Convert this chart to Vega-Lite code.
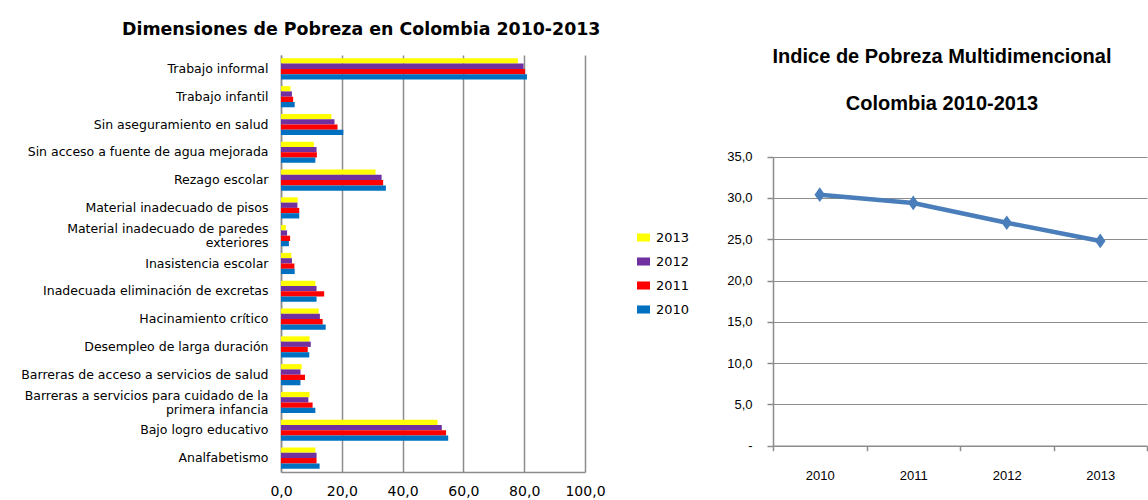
{
  "$schema": "https://vega.github.io/schema/vega-lite/v6.json",
  "padding": {"left": 0, "top": 20, "right": 0, "bottom": 0},
  "background": "white",
  "title": {"text": "Dimensiones de Pobreza en Colombia 2010-2013", "anchor": "start", "dx": 122, "font": "DejaVu Sans", "fontSize": 17.4, "fontWeight": "bold", "color": "#000000", "offset": 9},
  "spacing": 117,
  "config": {"view": {"stroke": null}},
  "hconcat": [
    {
      "width": 304,
      "height": 417,
      "data": {"values": [
        {"dim": "Trabajo informal", "year": "2013", "value": 77.9},
        {"dim": "Trabajo informal", "year": "2012", "value": 79.8},
        {"dim": "Trabajo informal", "year": "2011", "value": 80.3},
        {"dim": "Trabajo informal", "year": "2010", "value": 80.9},
        {"dim": "Trabajo infantil", "year": "2013", "value": 3.1},
        {"dim": "Trabajo infantil", "year": "2012", "value": 3.6},
        {"dim": "Trabajo infantil", "year": "2011", "value": 4.0},
        {"dim": "Trabajo infantil", "year": "2010", "value": 4.5},
        {"dim": "Sin aseguramiento en salud", "year": "2013", "value": 16.6},
        {"dim": "Sin aseguramiento en salud", "year": "2012", "value": 17.6},
        {"dim": "Sin aseguramiento en salud", "year": "2011", "value": 18.6},
        {"dim": "Sin aseguramiento en salud", "year": "2010", "value": 20.5},
        {"dim": "Sin acceso a fuente de agua mejorada", "year": "2013", "value": 10.8},
        {"dim": "Sin acceso a fuente de agua mejorada", "year": "2012", "value": 11.7},
        {"dim": "Sin acceso a fuente de agua mejorada", "year": "2011", "value": 11.8},
        {"dim": "Sin acceso a fuente de agua mejorada", "year": "2010", "value": 11.3},
        {"dim": "Rezago escolar", "year": "2013", "value": 31.1},
        {"dim": "Rezago escolar", "year": "2012", "value": 33.1},
        {"dim": "Rezago escolar", "year": "2011", "value": 33.6},
        {"dim": "Rezago escolar", "year": "2010", "value": 34.5},
        {"dim": "Material inadecuado de pisos", "year": "2013", "value": 5.5},
        {"dim": "Material inadecuado de pisos", "year": "2012", "value": 5.4},
        {"dim": "Material inadecuado de pisos", "year": "2011", "value": 6.0},
        {"dim": "Material inadecuado de pisos", "year": "2010", "value": 6.0},
        {"dim": "Material inadecuado de paredes exteriores", "year": "2013", "value": 1.6},
        {"dim": "Material inadecuado de paredes exteriores", "year": "2012", "value": 2.0},
        {"dim": "Material inadecuado de paredes exteriores", "year": "2011", "value": 3.0},
        {"dim": "Material inadecuado de paredes exteriores", "year": "2010", "value": 2.6},
        {"dim": "Inasistencia escolar", "year": "2013", "value": 3.4},
        {"dim": "Inasistencia escolar", "year": "2012", "value": 3.6},
        {"dim": "Inasistencia escolar", "year": "2011", "value": 4.4},
        {"dim": "Inasistencia escolar", "year": "2010", "value": 4.5},
        {"dim": "Inadecuada eliminación de excretas", "year": "2013", "value": 11.3},
        {"dim": "Inadecuada eliminación de excretas", "year": "2012", "value": 11.7},
        {"dim": "Inadecuada eliminación de excretas", "year": "2011", "value": 14.2},
        {"dim": "Inadecuada eliminación de excretas", "year": "2010", "value": 11.7},
        {"dim": "Hacinamiento crítico", "year": "2013", "value": 12.4},
        {"dim": "Hacinamiento crítico", "year": "2012", "value": 12.8},
        {"dim": "Hacinamiento crítico", "year": "2011", "value": 13.7},
        {"dim": "Hacinamiento crítico", "year": "2010", "value": 14.7},
        {"dim": "Desempleo de larga duración", "year": "2013", "value": 9.4},
        {"dim": "Desempleo de larga duración", "year": "2012", "value": 9.8},
        {"dim": "Desempleo de larga duración", "year": "2011", "value": 8.8},
        {"dim": "Desempleo de larga duración", "year": "2010", "value": 9.3},
        {"dim": "Barreras de acceso a servicios de salud", "year": "2013", "value": 6.8},
        {"dim": "Barreras de acceso a servicios de salud", "year": "2012", "value": 6.4},
        {"dim": "Barreras de acceso a servicios de salud", "year": "2011", "value": 7.9},
        {"dim": "Barreras de acceso a servicios de salud", "year": "2010", "value": 6.4},
        {"dim": "Barreras a servicios para cuidado de la primera infancia", "year": "2013", "value": 9.4},
        {"dim": "Barreras a servicios para cuidado de la primera infancia", "year": "2012", "value": 9.0},
        {"dim": "Barreras a servicios para cuidado de la primera infancia", "year": "2011", "value": 10.4},
        {"dim": "Barreras a servicios para cuidado de la primera infancia", "year": "2010", "value": 11.3},
        {"dim": "Bajo logro educativo", "year": "2013", "value": 51.5},
        {"dim": "Bajo logro educativo", "year": "2012", "value": 52.9},
        {"dim": "Bajo logro educativo", "year": "2011", "value": 54.3},
        {"dim": "Bajo logro educativo", "year": "2010", "value": 55.0},
        {"dim": "Analfabetismo", "year": "2013", "value": 11.3},
        {"dim": "Analfabetismo", "year": "2012", "value": 11.7},
        {"dim": "Analfabetismo", "year": "2011", "value": 11.7},
        {"dim": "Analfabetismo", "year": "2010", "value": 12.7}
      ]},
      "mark": {"type": "bar"},
      "encoding": {
        "y": {
          "field": "dim", "type": "nominal", "sort": null,
          "scale": {"paddingInner": 0.24, "paddingOuter": 0.12},
          "axis": {
            "title": null, "ticks": false, "domainColor": "#8c8c8c", "domainWidth": 1.5,
            "labelFont": "DejaVu Sans", "labelFontSize": 12.5, "labelColor": "#000000",
            "labelPadding": 13, "labelLimit": 320, "labelLineHeight": 14,
            "labelOffset": {"condition": {"test": "datum.value == 'Material inadecuado de paredes exteriores' || datum.value == 'Barreras a servicios para cuidado de la primera infancia'", "value": -7}, "value": 0},
            "minExtent": 281, "maxExtent": 281,
            "labelExpr": "datum.label == 'Material inadecuado de paredes exteriores' ? ['Material inadecuado de paredes', 'exteriores'] : datum.label == 'Barreras a servicios para cuidado de la primera infancia' ? ['Barreras a servicios para cuidado de la', 'primera infancia'] : datum.label"
          }
        },
        "x": {
          "field": "value", "type": "quantitative",
          "scale": {"domain": [0, 100], "nice": false},
          "axis": {
            "title": null, "values": [0, 20, 40, 60, 80, 100], "ticks": false,
            "grid": true, "gridColor": "#8c8c8c", "gridWidth": 1.5,
            "domainColor": "#8c8c8c", "domainWidth": 1.5, "labelFlush": false,
            "labelFont": "DejaVu Sans", "labelFontSize": 14, "labelColor": "#000000", "labelPadding": 12,
            "labelExpr": "replace(format(datum.value, '.1f'), '.', ',')"
          }
        },
        "yOffset": {"field": "year", "type": "nominal", "sort": "descending"},
        "color": {
          "field": "year", "type": "nominal",
          "scale": {"domain": ["2013", "2012", "2011", "2010"], "range": ["#FFFF00", "#7030A0", "#FF0000", "#0070C0"]},
          "legend": {
            "title": null, "orient": "none", "legendX": 356, "legendY": 176,
            "symbolType": "M-1,-0.62H1V0.62H-1Z", "symbolSize": 169, "symbolStrokeWidth": 0,
            "labelFont": "DejaVu Sans", "labelFontSize": 13, "labelColor": "#000000",
            "rowPadding": 10, "labelOffset": 6
          }
        }
      }
    },
    {
      "width": 374,
      "height": 390.7,
      "title": {
        "text": ["Indice de Pobreza Multidimencional", "Colombia 2010-2013"],
        "font": "Liberation Sans",
        "fontSize": 20, "fontWeight": "bold", "color": "#000000",
        "lineHeight": 47, "anchor": "middle", "frame": "group", "dx": -18, "offset": -59
      },
      "data": {"values": [
        {"year": "2010", "ipm": 30.4},
        {"year": "2011", "ipm": 29.4},
        {"year": "2012", "ipm": 27.0},
        {"year": "2013", "ipm": 24.8}
      ]},
      "encoding": {
        "x": {
          "field": "year", "type": "ordinal",
          "scale": {"type": "band", "paddingInner": 0, "paddingOuter": 0},
          "axis": {
            "title": null, "labelAngle": 0, "tickBand": "extent", "ticks": true, "tickSize": 5,
            "tickColor": "#8c8c8c", "domainColor": "#8c8c8c", "domainWidth": 1.5, "tickWidth": 1.5,
            "labelFont": "Liberation Sans",
            "labelFontSize": 13, "labelColor": "#000000", "labelPadding": 19
          }
        },
        "y": {
          "field": "ipm", "type": "quantitative",
          "scale": {"domain": [0, 35], "nice": false, "range": [390.7, 101.7]},
          "axis": {
            "title": null, "values": [0, 5, 10, 15, 20, 25, 30, 35],
            "grid": true, "gridColor": "#8c8c8c", "gridWidth": 1.2,
            "domainColor": "#8c8c8c", "domainWidth": 1.5, "tickColor": "#8c8c8c", "tickSize": 6, "tickWidth": 1.5,
            "labelFont": "Liberation Sans",
            "labelFontSize": 13, "labelColor": "#000000", "labelPadding": 15,
            "minExtent": 50, "maxExtent": 50,
            "labelExpr": "datum.value == 0 ? '-' : replace(format(datum.value, '.1f'), '.', ',')"
          }
        }
      },
      "layer": [
        {"mark": {"type": "line", "color": "#4A7EBB", "strokeWidth": 4.5}},
        {"mark": {"type": "point", "filled": true, "shape": "M0,-1.4L1,0L0,1.4L-1,0Z", "size": 110, "color": "#4A7EBB", "opacity": 1}}
      ]
    }
  ]
}
